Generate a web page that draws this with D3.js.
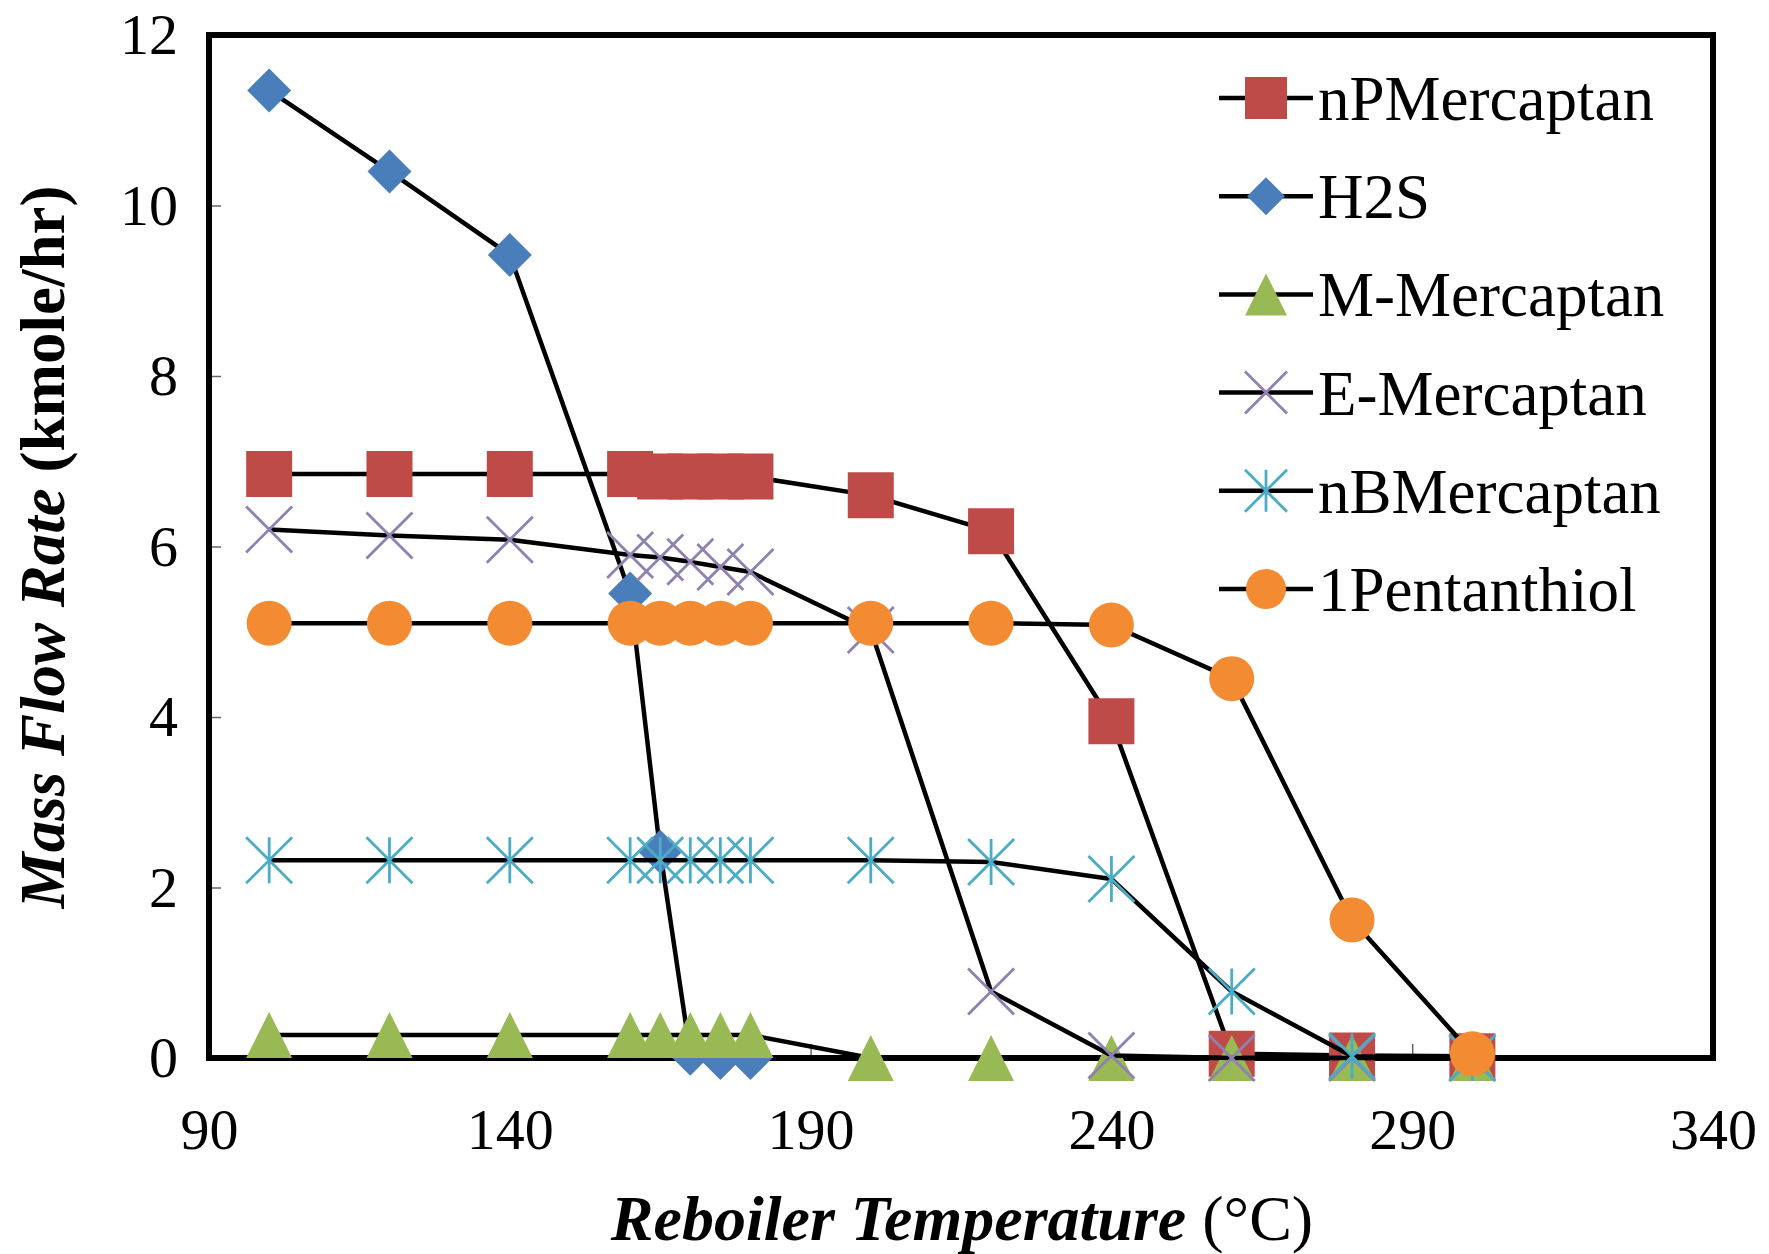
<!DOCTYPE html>
<html>
<head>
<meta charset="utf-8">
<script src="https://cdn.jsdelivr.net/npm/d3@7"></script>
<style>
  body { margin: 0; background: #fff; }
  svg { display: block; }
  text { font-family: "Liberation Serif", "Times New Roman", serif; fill: #000; }
</style>
</head>
<body>
<div id="chart"></div>
<script>
// temperatures (°C)
const temps = [100, 120, 140, 160, 165, 170, 175, 180, 200, 220, 240, 260, 280, 300];

// mass flow rates (kmole/hr)
const nPMercaptan = [6.85, 6.85, 6.85, 6.85, 6.82, 6.82, 6.82, 6.82, 6.6, 6.18, 3.95, 0.05, 0.03, 0.02];
const h2s = [11.35, 10.4, 9.42, 5.45, 2.42, 0.05, 0, 0];
const mMercaptan = [0.27, 0.27, 0.27, 0.27, 0.27, 0.27, 0.27, 0.27, 0, 0, 0, 0, 0, 0];
const eMercaptan = [6.2, 6.13, 6.08, 5.9, 5.87, 5.82, 5.76, 5.7, 5.02, 0.78, 0.03, 0, 0, 0];
const nBMercaptan = [2.32, 2.32, 2.32, 2.32, 2.32, 2.32, 2.32, 2.32, 2.32, 2.3, 2.1, 0.78, 0.02, 0];
const pentanthiol = [5.1, 5.1, 5.1, 5.1, 5.1, 5.1, 5.1, 5.1, 5.1, 5.1, 5.08, 4.45, 1.62, 0.05];

const xTicks = [90, 140, 190, 240, 290, 340];
const yTicks = [0, 2, 4, 6, 8, 10, 12];

const series = [
  { name: 'nPMercaptan', values: nPMercaptan, marker: 'square', color: '#BE4B48' },
  { name: 'H2S', values: h2s, marker: 'diamond', color: '#4A7EBB' },
  { name: 'M-Mercaptan', values: mMercaptan, marker: 'triangle', color: '#98B954' },
  { name: 'E-Mercaptan', values: eMercaptan, marker: 'x', color: '#8F82B0' },
  { name: 'nBMercaptan', values: nBMercaptan, marker: 'star', color: '#4BACC6' },
  { name: '1Pentanthiol', values: pentanthiol, marker: 'circle', color: '#F38B32' }
];

const W = 1769, H = 1254;
const svg = d3.select('#chart').append('svg').attr('width', W).attr('height', H);

const x = d3.scaleLinear().domain([90, 340]).range([209, 1713]);
const y = d3.scaleLinear().domain([0, 12]).range([1058, 35]);

// marker shapes, centred on 0,0
const markerPath = (type, s) => {
  const h = s / 2;
  switch (type) {
    case 'square': return `M${-h},${-h}H${h}V${h}H${-h}Z`;
    case 'diamond': return `M0,${-h}L${h},0L0,${h}L${-h},0Z`;
    case 'triangle': return `M0,${-h}L${h},${h}L${-h},${h}Z`;
    case 'x': return `M${-h},${-h}L${h},${h}M${h},${-h}L${-h},${h}`;
    case 'star': return `M${-h},${-h}L${h},${h}M${h},${-h}L${-h},${h}M0,${-h}V${h}`;
  }
};

const drawMarker = (g, s, cx, cy, size) => {
  if (s.marker === 'circle') {
    g.append('circle').attr('cx', cx).attr('cy', cy).attr('r', size / 2).attr('fill', s.color);
  } else if (s.marker === 'x' || s.marker === 'star') {
    g.append('path').attr('d', markerPath(s.marker, size))
      .attr('transform', `translate(${cx},${cy})`)
      .attr('fill', 'none').attr('stroke', s.color).attr('stroke-width', 2.8);
  } else {
    g.append('path').attr('d', markerPath(s.marker, size))
      .attr('transform', `translate(${cx},${cy})`)
      .attr('fill', s.color);
  }
};

// axes with inside ticks
const yAxis = svg.append('g').attr('transform', `translate(${x(90)},0)`)
  .call(d3.axisLeft(y).tickValues(yTicks).tickSize(-12).tickPadding(31));
const xAxis = svg.append('g').attr('transform', `translate(0,${y(0)})`)
  .call(d3.axisBottom(x).tickValues(xTicks).tickSize(-14).tickPadding(50));
[yAxis, xAxis].forEach(a => {
  a.select('.domain').remove();
  a.selectAll('line').attr('stroke', '#666').attr('stroke-width', 1.5);
  a.selectAll('text').attr('font-size', 58).attr('font-family', '"Liberation Serif", serif');
});

// plot frame
svg.append('rect')
  .attr('x', x(90)).attr('y', y(12))
  .attr('width', x(340) - x(90)).attr('height', y(0) - y(12))
  .attr('fill', 'none').attr('stroke', '#000').attr('stroke-width', 6);

const line = d3.line().x(d => x(d[0])).y(d => y(d[1]));

const plot = svg.append('g');
series.forEach(s => {
  const pts = s.values.map((v, i) => [temps[i], v]);
  plot.append('path').datum(pts).attr('d', line)
    .attr('fill', 'none').attr('stroke', '#000').attr('stroke-width', 4.5)
    .attr('stroke-linejoin', 'round');
  const size = s.marker === 'circle' ? 45 : (s.marker === 'diamond' ? 44 : 46);
  pts.forEach(p => drawMarker(plot, s, x(p[0]), y(p[1]), size));
});

// legend
const legend = svg.append('g');
series.forEach((s, i) => {
  const cy = 98 + i * 98.2;
  legend.append('line').attr('x1', 1219).attr('x2', 1313).attr('y1', cy).attr('y2', cy)
    .attr('stroke', '#000').attr('stroke-width', 4.5);
  const size = s.marker === 'circle' ? 40 : (s.marker === 'diamond' ? 38 : 42);
  drawMarker(legend, s, 1266, cy, size);
  legend.append('text').attr('x', 1318).attr('y', cy).attr('dy', '0.35em')
    .attr('font-size', 63).text(s.name);
});

// axis titles
const xt = svg.append('text').attr('x', 962).attr('y', 1240)
  .attr('text-anchor', 'middle').attr('font-size', 64);
xt.append('tspan').attr('font-weight', 'bold').attr('font-style', 'italic').text('Reboiler Temperature ');
xt.append('tspan').text('(°C)');

const yt = svg.append('text').attr('transform', 'translate(64,547) rotate(-90)')
  .attr('text-anchor', 'middle').attr('font-size', 63).attr('font-weight', 'bold');
yt.append('tspan').attr('font-style', 'italic').text('Mass Flow Rate ');
yt.append('tspan').text('(kmole/hr)');
</script>
</body>
</html>
